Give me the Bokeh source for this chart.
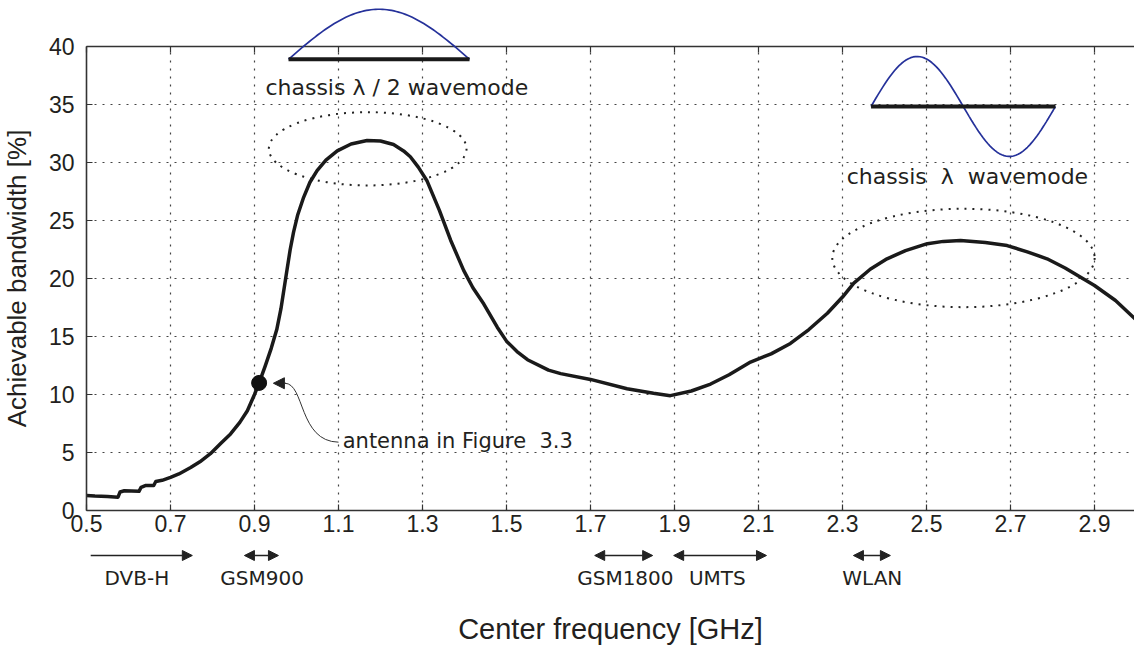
import numpy as np
from bokeh.plotting import figure
from bokeh.models import Range1d, LinearAxis, FixedTicker, Arrow, NormalHead
from bokeh.core.properties import value
from bokeh.embed import file_html
from bokeh.resources import INLINE

# ---- data ----
freq = [0.500, 0.520, 0.550, 0.575, 0.580, 0.590, 0.625, 0.630, 0.640, 0.660, 0.665, 0.680,
        0.700, 0.720, 0.748, 0.770, 0.795, 0.820, 0.843, 0.865, 0.883, 0.900, 0.911, 0.925,
        0.940, 0.953, 0.963, 0.975, 0.985, 0.993, 1.003, 1.017, 1.032, 1.049, 1.070, 1.097,
        1.130, 1.168, 1.200, 1.231, 1.255, 1.271, 1.290, 1.311, 1.340, 1.367, 1.398, 1.420,
        1.446, 1.478, 1.500, 1.525, 1.550, 1.600, 1.629, 1.700, 1.787, 1.850, 1.890,
        1.940, 1.986, 2.030, 2.081, 2.130, 2.176, 2.220, 2.264, 2.300, 2.327, 2.366, 2.406,
        2.450, 2.502, 2.540, 2.581, 2.640, 2.692, 2.740, 2.787, 2.830, 2.867, 2.900, 2.950, 3.000]
bandwidth = [1.3, 1.25, 1.2, 1.15, 1.6, 1.7, 1.65, 2.0, 2.15, 2.15, 2.5, 2.6,
             2.85, 3.15, 3.7, 4.2, 4.9, 5.8, 6.6, 7.6, 8.6, 10.0, 11.0, 12.4,
             14.0, 15.6, 17.4, 20.2, 22.5, 24.0, 25.5, 27.0, 28.3, 29.3, 30.2, 31.0,
             31.6, 31.9, 31.85, 31.55, 31.0, 30.5, 29.6, 28.4, 25.9, 23.3, 20.7, 19.2,
             17.8, 15.8, 14.6, 13.7, 13.0, 12.1, 11.8, 11.3, 10.5, 10.1, 9.9,
             10.3, 10.9, 11.7, 12.8, 13.5, 14.4, 15.6, 17.0, 18.4, 19.6, 20.8, 21.7,
             22.4, 23.0, 23.2, 23.28, 23.1, 22.84, 22.3, 21.7, 20.9, 20.1, 19.4, 18.1, 16.4]

x_ticks = [0.5, 0.7, 0.9, 1.1, 1.3, 1.5, 1.7, 1.9, 2.1, 2.3, 2.5, 2.7, 2.9]
x_tick_labels = ["0.5", "0.7", "0.9", "1.1", "1.3", "1.5", "1.7", "1.9", "2.1", "2.3", "2.5", "2.7", "2.9"]
y_ticks = [0, 5, 10, 15, 20, 25, 30, 35, 40]

# antenna marker
antenna_f = [0.911]
antenna_bw = [11.0]

# ellipses (center x, center y, width, height)
ell_x = [1.1695, 2.588]
ell_y = [31.18, 21.77]
ell_w = [0.4707, 0.6246]
ell_h = [6.32, 8.48]

# bands: name, start, end, label position
band_names = ["DVB-H", "GSM900", "GSM1800", "UMTS", "WLAN"]
band_start = [0.51, 0.876, 1.71, 1.898, 2.326]
band_end = [0.752, 0.957, 1.848, 2.119, 2.414]
band_label_x = [0.62, 0.918, 1.783, 2.002, 2.371]
band_double = [False, True, True, True, True]

# wavemode sketches
half_bar = [0.981, 1.412]
half_bar_y = 38.9
full_bar = [2.368, 2.807]
full_bar_y = 34.83
mode_amp = 4.31

TXT = "#231f20"
BLUE = "#25319a"
ARIAL = "Liberation Sans"
GOTH = "DejaVu Sans"

p = figure(width=1134, height=645, output_backend="svg", toolbar_location=None,
           x_range=Range1d(0.5 - 86 / 420, 0.5 + 1048 / 420),
           y_range=Range1d(-135 / 11.6, 510 / 11.6),
           x_axis_location=None, y_axis_location=None, min_border=0)
p.outline_line_color = None
p.background_fill_color = "white"
p.grid.visible = False

# grid lines (dotted)
p.segment(x0=x_ticks[1:], y0=[0] * (len(x_ticks) - 1), x1=x_ticks[1:], y1=[40] * (len(x_ticks) - 1),
          line_color="#444444", line_width=1.2, line_dash="2 6")
p.segment(x0=[0.5] * (len(y_ticks) - 2), y0=y_ticks[1:-1], x1=[3.0] * (len(y_ticks) - 2), y1=y_ticks[1:-1],
          line_color="#444444", line_width=1.2, line_dash="2 6")

# top border with inward ticks
p.segment(x0=[0.5], y0=[40], x1=[3.0], y1=[40], line_color="#333333", line_width=1.6)
p.segment(x0=x_ticks, y0=[40] * len(x_ticks), x1=x_ticks, y1=[40 - 6 / 11.6] * len(x_ticks),
          line_color="#333333", line_width=1.2)

# axes
xaxis = LinearAxis(fixed_location=0, bounds=(0.5, 3.0), ticker=FixedTicker(ticks=x_ticks),
                   axis_label="Center frequency [GHz]")
xaxis.major_label_overrides = {t: l for t, l in zip(x_ticks, x_tick_labels)}
yaxis = LinearAxis(fixed_location=0.5, bounds=(0, 40), ticker=FixedTicker(ticks=y_ticks),
                   axis_label="Achievable bandwidth [%]")
for ax in (xaxis, yaxis):
    ax.axis_line_color = "#333333"
    ax.axis_line_width = 1.6
    ax.major_tick_in = 6
    ax.major_tick_out = 0
    ax.major_tick_line_color = "#333333"
    ax.major_tick_line_width = 1.2
    ax.minor_tick_line_color = None
    ax.major_label_text_font = ARIAL
    ax.major_label_text_font_size = "23px"
    ax.major_label_text_color = TXT
    ax.axis_label_text_font = ARIAL
    ax.axis_label_text_font_style = "normal"
    ax.axis_label_text_color = TXT
xaxis.major_label_standoff = 4
xaxis.axis_label_text_font_size = "29px"
xaxis.axis_label_standoff = 78
yaxis.major_label_standoff = 12
yaxis.axis_label_text_font_size = "26px"
yaxis.axis_label_standoff = 14
p.add_layout(xaxis, "below")
p.add_layout(yaxis, "left")

# dotted ellipses
p.ellipse(x=ell_x, y=ell_y, width=ell_w, height=ell_h, fill_color=None,
          line_color="#222222", line_width=2, line_dash="2 6")

# main curve
p.line(freq, bandwidth, line_color="#1a1a1a", line_width=3.5, line_join="round")
p.scatter(antenna_f, antenna_bw, size=15, color="#111111")

# wavemode sketches
t = np.linspace(0, 1, 80)
p.line(half_bar[0] + (half_bar[1] - half_bar[0]) * t, half_bar_y + mode_amp * np.sin(np.pi * t),
       line_color=BLUE, line_width=1.7)
p.line(half_bar, [half_bar_y, half_bar_y], line_color="#1a1a1a", line_width=4)
p.line(full_bar[0] + (full_bar[1] - full_bar[0]) * t, full_bar_y + mode_amp * np.sin(2 * np.pi * t),
       line_color=BLUE, line_width=1.7)
p.line(full_bar, [full_bar_y, full_bar_y], line_color="#1a1a1a", line_width=4)

# annotation texts
p.text(x=[0.926], y=[36.47], text=["chassis λ / 2 wavemode"], text_font=value(GOTH),
       text_font_size="22px", text_color=TXT, text_baseline="middle", text_align="left")
p.text(x=[2.31], y=[28.8], text=["chassis \u00a0λ\u00a0 wavemode"], text_font=value(GOTH),
       text_font_size="22px", text_color=TXT, text_baseline="middle", text_align="left")
p.text(x=[1.11], y=[5.95], text=["antenna in Figure \u00a03.3"], text_font=value(GOTH),
       text_font_size="21px", text_color=TXT, text_baseline="middle", text_align="left")

# curved pointer to antenna
p.bezier(x0=[1.100], y0=[5.89], x1=[0.972], y1=[10.97], cx0=[1.005], cy0=[5.95],
         cx1=[1.02], cy1=[10.97], line_color="#333333", line_width=1)
p.add_layout(Arrow(x_start=0.975, y_start=10.97, x_end=0.945, y_end=10.97,
                   line_color="#333333", line_width=1,
                   end=NormalHead(size=11, fill_color="#222222", line_color="#222222")))

# frequency bands
band_y = -3.88
for name, s, e, dbl in zip(band_names, band_start, band_end, band_double):
    p.add_layout(Arrow(x_start=s, y_start=band_y, x_end=e, y_end=band_y,
                       line_color="#222222", line_width=1.6,
                       end=NormalHead(size=10, fill_color="#222222", line_color="#222222"),
                       start=NormalHead(size=10, fill_color="#222222", line_color="#222222") if dbl else None))
p.text(x=band_label_x, y=[-5.86] * len(band_names), text=band_names, text_font=value(GOTH),
       text_font_size="20px", text_color=TXT, text_baseline="middle", text_align="center")

open("out.html", "w").write(file_html(p, INLINE))
